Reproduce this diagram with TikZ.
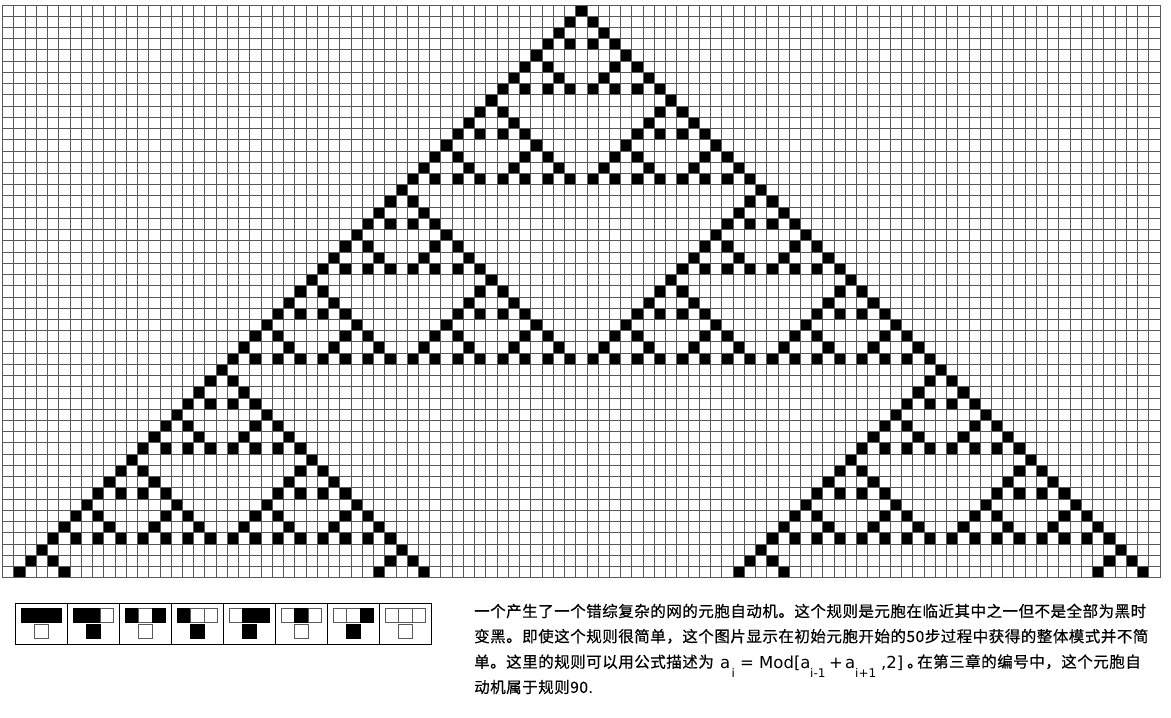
\documentclass[tikz,border=0pt]{standalone}
\usepackage{fontspec}
\newfontfamily\cjk{Noto Sans CJK SC}[LetterSpace=3.3,FakeBold=0.5]
\newfontfamily\lat{DejaVu Sans}
\newcount\binA \newcount\binB
\newif\ifbinodd
\def\bintest#1#2{\binA=#1\relax\binB=#2\relax\binoddtrue
  \loop \ifodd\binA \ifodd\binB \binoddfalse\fi\fi
    \divide\binA by 2 \divide\binB by 2
  \ifnum\binA>0 \repeat}
\begin{document}
\begin{tikzpicture}[x=1pt,y=-1pt,
  gridline/.style={draw=black!65,line width=0.9pt},
  legbox/.style={draw=black,line width=1pt},
  legon/.style={fill=black,draw=black,line width=0.8pt},
  legoff/.style={fill=white,draw=black!65,line width=0.8pt},
  txt/.style={anchor=west,inner sep=0pt,font=\cjk\fontsize{15.5}{15.5}\selectfont},
  fml/.style={anchor=base west,inner sep=0pt,font=\lat\fontsize{16.5}{16.5}\selectfont},
  sub/.style={anchor=base west,inner sep=0pt,font=\lat\fontsize{12}{12}\selectfont}]
\useasboundingbox (0,0) rectangle (1171,718);
\fill[white] (0,0) rectangle (1171,718);
\def\gx{2.7}\def\gy{5}\def\cw{11.236}\def\ch{11.229}
% black cells (rule 90 from a single cell)
\foreach \n in {0,...,50}{
  \foreach \m in {0,...,\n}{
    \bintest{\m}{\numexpr\n-\m\relax}
    \ifbinodd
      \fill[black] ({\gx+(51-\n+2*\m)*\cw},{\gy+\n*\ch}) rectangle ++(\cw,\ch);
    \fi
  }
}
% grid
\foreach \i in {0,...,103}
  \draw[gridline] ({\gx+\i*\cw},\gy) -- ({\gx+\i*\cw},{\gy+51*\ch});
\foreach \j in {0,...,51}
  \draw[gridline] (\gx,{\gy+\j*\ch}) -- ({\gx+103*\cw},{\gy+\j*\ch});
% legend
\draw[legbox] (15.5,603) rectangle (431,644);
\foreach \i in {1,...,7}
  \draw[legbox] ({15.5+52*\i},603) -- ({15.5+52*\i},644);
\foreach \i/\a/\b/\c/\o in {0/1/1/1/0,1/1/1/0/1,2/1/0/1/0,3/1/0/0/1,4/0/1/1/1,5/0/1/0/0,6/0/0/1/1,7/0/0/0/0}{
  \foreach \k/\v in {0/\a,1/\b,2/\c}{
    \ifnum\v=1
      \filldraw[legon] ({21.5+52*\i+13.33*\k},608.3) rectangle ++(13.33,14);
    \else
      \filldraw[legoff] ({21.5+52*\i+13.33*\k},608.3) rectangle ++(13.33,14);
    \fi
  }
  \ifnum\o=1
    \filldraw[legon] ({34.5+52*\i},624.7) rectangle ++(14,14);
  \else
    \filldraw[legoff] ({34.5+52*\i},624.7) rectangle ++(14,14);
  \fi
}
% caption
\node[txt] (l1) at (474,611) {一个产生了一个错综复杂的网的元胞自动机。这个规则是元胞在临近其中之一但不是全部为黑时};
\node[txt] (l2) at (474,636.3) {变黑。即使这个规则很简单，这个图片显示在初始元胞开始的50步过程中获得的整体模式并不简};
\node[txt] (l3a) at (474,661.7) {单。这里的规则可以用公式描述为};
\node[fml] (fa) at (720,668.5) {a};
\node[sub] (fi) at (731.5,677) {i};
\node[fml] (feq) at (740,668.5) {=};
\node[fml] (fmod) at (759,668.5) {Mod[a};
\node[sub] (fs1) at (810,677) {i-1};
\node[fml] (fplus) at (829,668.5) {+};
\node[fml] (fa2) at (845,668.5) {a};
\node[sub] (fs2) at (855,677) {i+1};
\node[fml] (fend) at (881,668.5) {,2]};
\node[txt] (l3b) at (907,661.7) {\makebox[10pt][l]{。}在第三章的编号中，这个元胞自};
\node[txt] (l4) at (474,687) {动机属于规则90.};
\end{tikzpicture}
\end{document}
